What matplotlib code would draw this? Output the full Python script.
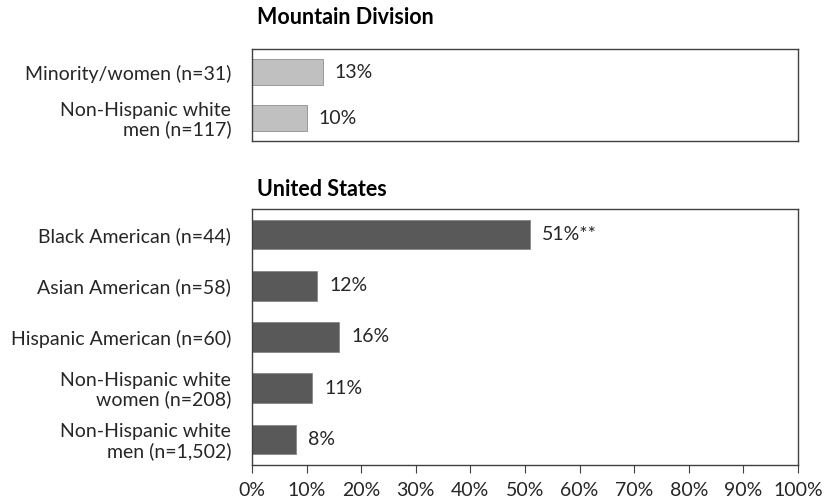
import matplotlib.pyplot as plt

plt.rcParams['font.family'] = ['Lato', 'DejaVu Sans']

mtn_labels = ['Minority/women (n=31)', 'Non-Hispanic white\nmen (n=117)']
mtn_values = [13, 10]
mtn_text = ['13%', '10%']

us_labels = ['Black American (n=44)', 'Asian American (n=58)', 'Hispanic American (n=60)',
             'Non-Hispanic white\nwomen (n=208)', 'Non-Hispanic white\nmen (n=1,502)']
us_values = [51, 12, 16, 11, 8]
us_text = ['51%**', '12%', '16%', '11%', '8%']

ticks = [0, 10, 20, 30, 40, 50, 60, 70, 80, 90, 100]

text_col = '#262626'
fs = 14

fig = plt.figure(figsize=(8.31, 5.04), dpi=100)
ax1 = fig.add_axes([0.3032, 0.7202, 0.657, 0.1825])
ax2 = fig.add_axes([0.3032, 0.0774, 0.657, 0.508])


def draw(ax, labels, values, texts, color, height):
    y = list(range(len(labels)))
    ax.barh(y, values, height=height, color=color, edgecolor='#7f7f7f', linewidth=0.5)
    for yi, v, t in zip(y, values, texts):
        ax.text(v + 2.2, yi, t, va='center', ha='left', fontsize=fs, color=text_col)
    ax.set_yticks(y)
    ax.set_yticklabels(labels, fontsize=fs, color=text_col, ha='right', linespacing=1.1)
    ax.set_ylim(len(labels) - 0.5, -0.5)
    ax.set_xlim(0, 100)
    ax.tick_params(axis='y', length=0, pad=15)
    for s in ax.spines.values():
        s.set_color('#404040')
        s.set_linewidth(1)


draw(ax1, mtn_labels, mtn_values, mtn_text, '#c0c0c0', 0.55)
draw(ax2, us_labels, us_values, us_text, '#595959', 0.58)

ax1.set_xticks([])
ax2.set_xticks(ticks)
ax2.set_xticklabels([f'{t}%' for t in ticks], fontsize=fs, color=text_col)
ax2.tick_params(axis='x', direction='out', length=6, color='#404040', pad=6)

t1 = ax1.set_title('Mountain Division', loc='left', fontsize=15.5, fontweight='bold', color='#000000', pad=18)
t2 = ax2.set_title('United States', loc='left', fontsize=15.5, fontweight='bold', color='#000000', pad=9)
t1.set_x(0.009)
t2.set_x(0.009)

fig.savefig('out.png', dpi=100)
